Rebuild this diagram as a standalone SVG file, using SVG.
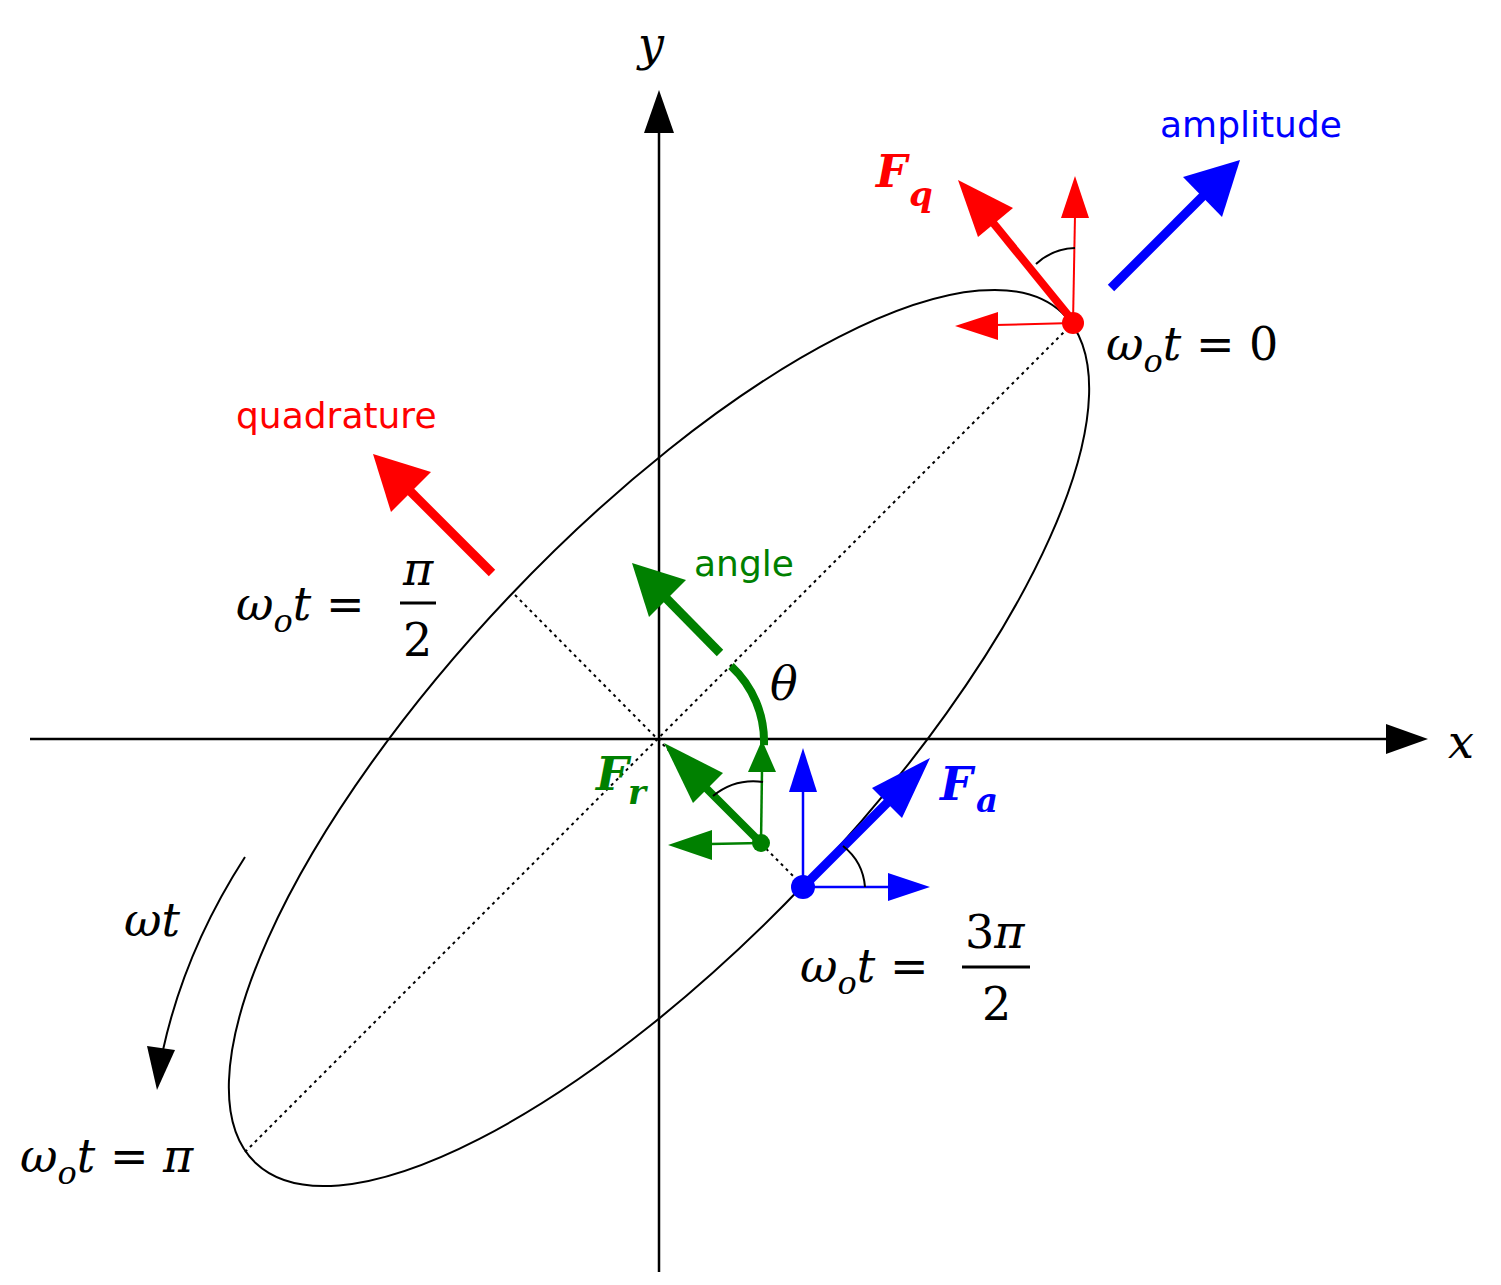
<svg xmlns="http://www.w3.org/2000/svg" width="1501" height="1285" viewBox="0 0 1501 1285">
<style>
.m{font-family:"DejaVu Serif","Liberation Serif",serif;font-style:italic;font-size:46px}
.u{font-style:normal}
.mb{font-family:"DejaVu Serif","Liberation Serif",serif;font-style:italic;font-weight:bold}
.lab{font-family:"DejaVu Sans","Liberation Sans",sans-serif;font-size:36px}
.ax{stroke:#000;stroke-width:2.5;fill:none}
.dot{stroke:#000;stroke-width:2;stroke-dasharray:3 4;fill:none}
</style>
<rect width="1501" height="1285" fill="#fff"/>
<g id="axes">
<line class="ax" x1="30" y1="739" x2="1390" y2="739"/>
<polygon points="1428,739 1386,724 1386,754"/>
<line class="ax" x1="659" y1="1272" x2="659" y2="130"/>
<polygon points="659,90 644,133 674,133"/>
<text class="m" x="1448" y="758" font-size="56">x</text>
<text class="m" x="638" y="60" font-size="56">y</text>
</g>
<g id="ellipse">
<ellipse cx="659" cy="738" rx="586" ry="206" transform="rotate(-46.5 659 738)" fill="none" stroke="#000" stroke-width="2"/>
<line class="dot" x1="245" y1="1152" x2="1073" y2="323"/>
<line class="dot" x1="515" y1="595" x2="803" y2="886"/>
</g>
<g id="connectors">
<line x1="492" y1="573" x2="408" y2="489" stroke="red" stroke-width="9"/>
<polygon points="373,454 431,472 391,512" fill="red"/>
<text class="lab" x="236" y="428" fill="red">quadrature</text>
<line x1="1111" y1="288" x2="1205" y2="194" stroke="blue" stroke-width="9"/>
<polygon points="1240,160 1222,217 1183,177" fill="blue"/>
<text class="lab" x="1160" y="137" fill="blue">amplitude</text>
<line x1="720" y1="653" x2="664" y2="596" stroke="green" stroke-width="9"/>
<polygon points="632,563 686,580 649,617" fill="green"/>
<text class="lab" x="694" y="576" fill="green">angle</text>
<path d="M731,666 A103,103 0 0 1 764,745" fill="none" stroke="green" stroke-width="8"/>
<text class="m" x="770" y="700">θ</text>
<line x1="1073" y1="323" x2="1075" y2="215" stroke="red" stroke-width="2"/>
<polygon points="1075,176 1061,218 1089,218" fill="red"/>
<line x1="1073" y1="323" x2="995" y2="325" stroke="red" stroke-width="2"/>
<polygon points="955,326 998,312 998,340" fill="red"/>
<line x1="1068" y1="315" x2="990" y2="219" stroke="red" stroke-width="8"/>
<polygon points="958,180 1013,208 978,237" fill="red"/>
<path d="M1036,264 A60,60 0 0 1 1075,248" fill="none" stroke="#000" stroke-width="2"/>
<circle cx="1073" cy="323" r="11" fill="red"/>
<text class="mb" x="876" y="187" font-size="44" fill="red">F</text>
<text class="mb" x="909" y="206" font-size="34" fill="red">q</text>
<line x1="761" y1="843" x2="762" y2="770" stroke="green" stroke-width="2.5"/>
<polygon points="762,740 748,772 776,772" fill="green"/>
<line x1="761" y1="843" x2="710" y2="844" stroke="green" stroke-width="2.5"/>
<polygon points="668,845 712,830 712,860" fill="green"/>
<line x1="761" y1="843" x2="700" y2="782" stroke="green" stroke-width="8"/>
<polygon points="664,743 723,773 693,803" fill="green"/>
<path d="M713,796 A65,65 0 0 1 763,782" fill="none" stroke="#000" stroke-width="2"/>
<circle cx="761" cy="843" r="9" fill="green"/>
<text class="mb" x="596" y="790" font-size="46" fill="green">F</text>
<text class="mb" x="628" y="804" font-size="34" fill="green">r</text>
<line x1="803" y1="887" x2="803" y2="790" stroke="blue" stroke-width="2.5"/>
<polygon points="803,748 789,792 817,792" fill="blue"/>
<line x1="803" y1="887" x2="890" y2="887" stroke="blue" stroke-width="2.5"/>
<polygon points="930,887 888,873 888,901" fill="blue"/>
<line x1="803" y1="887" x2="898" y2="792" stroke="blue" stroke-width="9"/>
<polygon points="930,758 902,818 872,788" fill="blue"/>
<path d="M843,846 A58,58 0 0 1 865,887" fill="none" stroke="#000" stroke-width="2"/>
<circle cx="803" cy="887" r="12" fill="blue"/>
<text class="mb" x="940" y="800" font-size="46" fill="blue">F</text>
<text class="mb" x="976" y="812" font-size="34" fill="blue">a</text>
<path d="M245,857 Q185,950 163,1050" fill="none" stroke="#000" stroke-width="2"/>
<polygon points="157,1090 147,1046 175,1050"/>
<text class="m" x="124" y="936" font-size="40">ωt</text>
</g>
<g id="labels">
<text class="m" x="1106" y="360">ω<tspan font-size="32" dy="12">o</tspan><tspan dy="-12">t </tspan><tspan class="u">= 0</tspan></text>
<text class="m" x="236" y="620">ω<tspan font-size="32" dy="12">o</tspan><tspan dy="-12">t </tspan><tspan class="u">=</tspan></text>
<text class="m" x="403" y="585">π</text>
<line x1="400" y1="603" x2="436" y2="603" stroke="#000" stroke-width="3"/>
<text class="m u" x="403" y="656">2</text>
<text class="m" x="800" y="982">ω<tspan font-size="32" dy="12">o</tspan><tspan dy="-12">t </tspan><tspan class="u">=</tspan></text>
<text class="m" x="965" y="948"><tspan class="u">3</tspan>π</text>
<line x1="962" y1="967" x2="1030" y2="967" stroke="#000" stroke-width="3"/>
<text class="m u" x="982" y="1020">2</text>
<text class="m" x="20" y="1172">ω<tspan font-size="32" dy="12">o</tspan><tspan dy="-12">t </tspan><tspan class="u">=</tspan> π</text>
</g>
</svg>
